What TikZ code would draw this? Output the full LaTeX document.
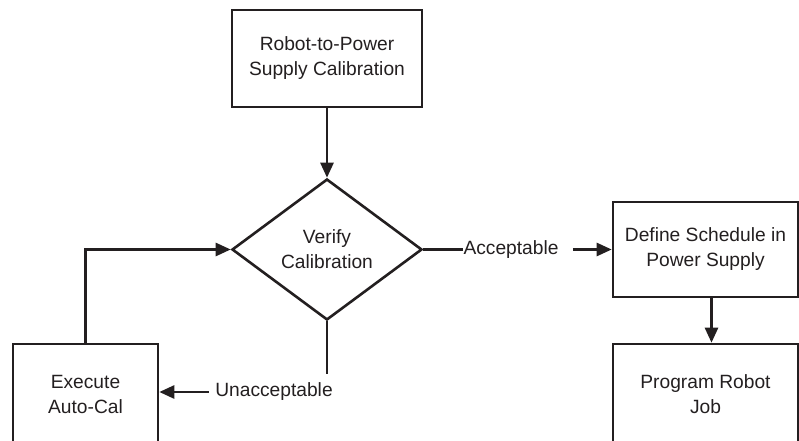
\documentclass[tikz,border=0pt]{standalone}
\usepackage{fontspec}
\setmainfont{Liberation Sans}
\usetikzlibrary{shapes.geometric, arrows.meta}
\definecolor{inkGray}{HTML}{231F20}
\tikzstyle{process} = [rectangle, text centered, align = center, line width = 1.3pt, draw = inkGray, inner sep = 0pt]
\tikzstyle{decision} = [diamond, aspect = 1.35, align = center, minimum width = 95pt, minimum height = 70.5pt, line width = 1.3pt, draw = inkGray, inner sep = 0pt]
\tikzstyle{branchText} = [inner sep = 0pt]
\tikzstyle{arrow} = [-{Triangle[length = 7.5pt, width = 6.5pt]}, line width = 1.3pt, draw = inkGray]
\tikzstyle{plainLine} = [line width = 1.3pt, draw = inkGray]
\begin{document}
\begin{tikzpicture}[x = 1pt, y = 1pt, font = \fontsize{9.6pt}{12.5pt}\selectfont, text = inkGray]
\useasboundingbox (0,0) rectangle (399.5,220);
\clip (0,0) rectangle (399.5,220);
\node (calib) [process, minimum width = 95pt, minimum height = 48.5pt] at (163.5,190.75) {Robot-to-Power\\Supply Calibration};
\node (verify) [decision, node distance = 95.5pt, below of = calib] {Verify\\Calibration};
\node (define) [process, node distance = 189.25pt, right of = verify, minimum width = 92.5pt, minimum height = 47.5pt] {Define Schedule in\\Power Supply};
\node (program) [process, node distance = 72.25pt, below of = define, minimum width = 92.5pt, minimum height = 50pt] {Program Robot\\Job};
\node (execute) [process, minimum width = 72.5pt, minimum height = 50pt] at (42.75,23) {Execute\\Auto-Cal};
\node (accLbl) [branchText, node distance = 92pt, right of = verify] {Acceptable};
\node (unaccLbl) [branchText] at (137,24) {Unacceptable};
\coordinate (unaccTop) at ([yshift = -26.5pt]verify.south);

\draw [arrow] (calib) -- (verify);
\draw [plainLine] (verify.east) -- (accLbl.west);
\draw [arrow, shorten < = 7pt] (accLbl.east) -- (define.west);
\draw [arrow] ([xshift = 3pt]define.south) -- ([xshift = 3pt]program.north);
\draw [plainLine] (verify.south) -- (unaccTop);
\draw [arrow, shorten < = 3pt] (unaccLbl.west) -- (unaccLbl.west -| execute.east);
\draw [arrow] (execute.north) |- (verify.west);
\end{tikzpicture}
\end{document}
